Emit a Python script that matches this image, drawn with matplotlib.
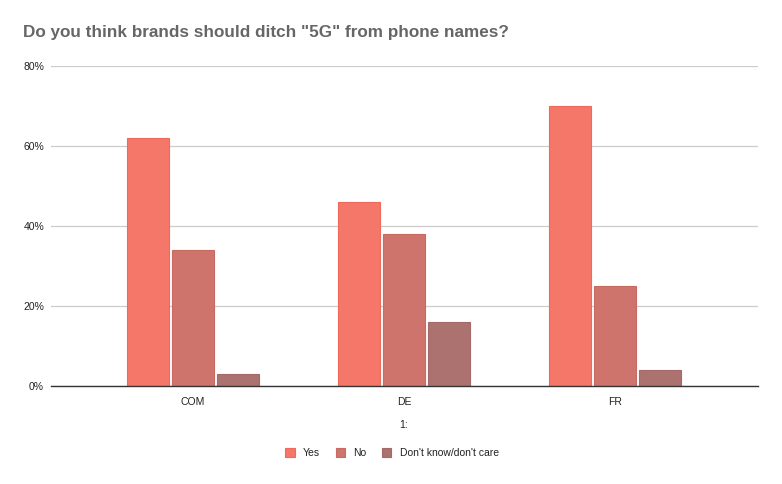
import matplotlib
matplotlib.use("Agg")
import matplotlib.pyplot as plt
import numpy as np

categories = ["COM", "DE", "FR"]
series_names = ["Yes", "No", "Don't know/don't care"]
yes = [62, 46, 70]
no = [34, 38, 25]
dont_know = [3, 16, 4]
y_ticks = [0, 20, 40, 60, 80]
y_tick_labels = ["0%", "20%", "40%", "60%", "80%"]

colors = ["#F5776A", "#CE746C", "#AB7270"]
edges = ["#EE6A5C", "#C76A62", "#A56A68"]

plt.rcParams['font.family'] = ['Liberation Sans', 'DejaVu Sans']
fig = plt.figure(figsize=(7.82, 4.84), dpi=100)
ax = fig.add_axes([51/782, 1-386/484, (758-51)/782, 320/484])

x = np.arange(len(categories))
w = 0.2
gap = 0.014
for i, (vals, name) in enumerate(zip([yes, no, dont_know], series_names)):
    off = (i - 1) * (w + gap)
    ax.bar(x + off, vals, width=w, color=colors[i], edgecolor=edges[i], linewidth=0.8, label=name, zorder=3)

ax.set_xlim(-0.673, 2.678)
ax.set_ylim(0, 80)
ax.set_yticks(y_ticks)
ax.set_yticklabels(y_tick_labels, fontsize=7.5, color="#222222")
ax.set_xticks(x)
ax.set_xticklabels(categories, fontsize=7.5, color="#222222")
ax.tick_params(axis='both', length=0)
ax.tick_params(axis='y', pad=5)
ax.tick_params(axis='x', pad=8)
ax.grid(axis='y', color="#CCCCCC", linewidth=0.9, zorder=0)
for s in ["top", "right", "left"]:
    ax.spines[s].set_visible(False)
ax.spines["bottom"].set_color("#333333")
ax.spines["bottom"].set_linewidth(1.0)
ax.spines["bottom"].set_zorder(4)

fig.text(23/782, 1-33/484, 'Do you think brands should ditch "5G" from phone names?',
         fontsize=12.3, fontweight='bold', color="#666666", va='center', ha='left')
fig.text(404/782, 1-425/484, "1:", fontsize=7.5, color="#222222", ha='center', va='center')

leg = fig.legend(loc='center', bbox_to_anchor=(392/782, 1-453/484), ncol=3, frameon=False,
                 fontsize=7.5, handlelength=0.9, handleheight=0.9, columnspacing=1.5, handletextpad=0.8)
for t in leg.get_texts():
    t.set_color("#222222")

fig.savefig("out.png", dpi=100)
